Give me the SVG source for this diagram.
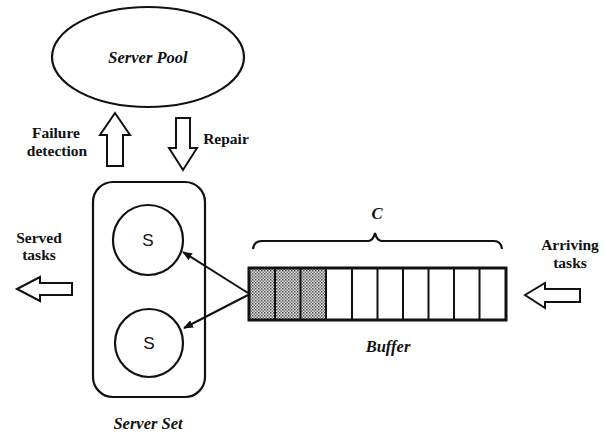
<svg xmlns="http://www.w3.org/2000/svg" width="607" height="434" viewBox="0 0 607 434">
<style>
.ln{fill:none;stroke:#111;stroke-width:2.2}
.blk{fill:#fff;stroke:#111;stroke-width:2}
.lab{font-family:"Liberation Serif",serif;font-weight:bold;font-size:15.5px;fill:#111;text-anchor:middle}
.ttl{font-family:"Liberation Serif",serif;font-weight:bold;font-style:italic;font-size:16.5px;fill:#111;text-anchor:middle}
.s{font-family:"Liberation Sans",sans-serif;font-size:17px;fill:#111;text-anchor:middle}
</style>
<defs>
<pattern id="dots" width="3" height="3" patternUnits="userSpaceOnUse">
<rect width="3" height="3" fill="#ddd"/>
<rect width="1.5" height="1.5" fill="#555"/>
<rect x="1.5" y="1.5" width="1.5" height="1.5" fill="#777"/>
</pattern>
<marker id="ah" markerWidth="10" markerHeight="8" refX="9" refY="4" orient="auto" markerUnits="userSpaceOnUse">
<path d="M0,0 L10,4 L0,8 Z" fill="#111"/>
</marker>
</defs>
<rect width="607" height="434" fill="#fff"/>

<g id="server-pool">
<ellipse cx="148" cy="57" rx="96" ry="50" class="ln"/>
<text x="148" y="63" class="ttl">Server Pool</text>
</g>

<g id="failure-detection">
<path d="M115,113 L130,135 L123,135 L123,166 L107,166 L107,135 L100,135 Z" class="blk"/>
<text x="56" y="138" class="lab">Failure</text>
<text x="57" y="156" class="lab">detection</text>
</g>

<g id="repair">
<path d="M176,118 L190,118 L190,148 L197,148 L183,170 L169,148 L176,148 Z" class="blk"/>
<text x="226" y="144" class="lab">Repair</text>
</g>

<g id="server-set">
<rect x="93" y="182" width="112" height="215" rx="20" class="ln"/>
<text x="148" y="429" class="ttl">Server Set</text>
</g>

<g id="server1">
<circle cx="148" cy="240" r="35" class="ln"/>
<text x="148" y="246" class="s">S</text>
</g>

<g id="server2">
<circle cx="149" cy="343" r="34" class="ln"/>
<text x="149" y="349" class="s">S</text>
</g>

<g id="served-tasks">
<path d="M17,289 L40,277 L40,283 L72,283 L72,295 L40,295 L40,301 Z" class="blk"/>
<text x="39" y="243" class="lab">Served</text>
<text x="39" y="260" class="lab">tasks</text>
</g>

<g id="buffer">
<rect x="275" y="268" width="25.5" height="52" fill="url(#dots)"/>
<rect x="249" y="268" width="26" height="52" fill="url(#dots)"/>
<rect x="300.5" y="268" width="25.5" height="52" fill="url(#dots)"/>
<g stroke="#111" stroke-width="2">
<line x1="275" y1="268" x2="275" y2="320"/>
<line x1="300.5" y1="268" x2="300.5" y2="320"/>
<line x1="326" y1="268" x2="326" y2="320"/>
<line x1="352" y1="268" x2="352" y2="320"/>
<line x1="377.5" y1="268" x2="377.5" y2="320"/>
<line x1="403" y1="268" x2="403" y2="320"/>
<line x1="428.5" y1="268" x2="428.5" y2="320"/>
<line x1="454" y1="268" x2="454" y2="320"/>
<line x1="479.5" y1="268" x2="479.5" y2="320"/>
</g>
<rect x="249" y="268" width="257" height="52" fill="none" stroke="#111" stroke-width="3"/>
<path d="M253,249 Q254,241 262,241 L368,241 Q373,241 375,233 Q377,241 382,241 L494,241 Q501,241 502,249" class="ln" stroke-width="2"/>
<text x="377" y="219" class="ttl" font-size="17">C</text>
<text x="388" y="352" class="ttl">Buffer</text>
</g>

<g id="arriving-tasks">
<path d="M525,295 L545,283 L545,289 L580,289 L580,302 L545,302 L545,308 Z" class="blk"/>
<text x="570" y="250" class="lab">Arriving</text>
<text x="570" y="268" class="lab">tasks</text>
</g>

<g id="connectors">
<line x1="248" y1="293" x2="183" y2="252" stroke="#111" stroke-width="2" marker-end="url(#ah)"/>
<line x1="248" y1="295" x2="184" y2="328" stroke="#111" stroke-width="2" marker-end="url(#ah)"/>
</g>
</svg>
